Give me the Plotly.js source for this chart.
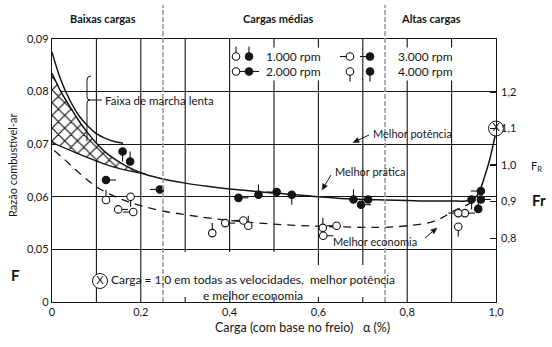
<!DOCTYPE html>
<html><head><meta charset="utf-8">
<script src="https://cdn.plot.ly/plotly-3.0.1.min.js"></script>
<style>html,body{margin:0;padding:0;background:#fff}#chart{width:552px;height:347px}</style>
</head><body><div id="chart"></div>
<script>
// ---------------- data ----------------
const xTickVals = [0, 0.2, 0.4, 0.6, 0.8, 1.0];
const xTickText = ['0', '0,2', '0,4', '0,6', '0,8', '1,0'];
const yTickVals = [0.04, 0.05, 0.06, 0.07, 0.08, 0.09];
const yTickText = ['0', '0,05', '0,06', '0,07', '0,08', '0,09'];
const frTickVals = [0.8, 0.9, 1.0, 1.1, 1.2];
const frTickText = ['0,8', '0,9', '1,0', '1,1', '1,2'];
const zoneNames = ['Baixas cargas', 'Cargas médias', 'Altas cargas'];
const zoneBounds = [0.25, 0.75];
const rpmLabels = ['1.000 rpm', '2.000 rpm', '3.000 rpm', '4.000 rpm'];

// idle band, upper curve
const idleUpperX = [0, 0.02, 0.04, 0.06, 0.08, 0.10, 0.12, 0.14, 0.16];
const idleUpperY = [0.0875, 0.0822, 0.0784, 0.0755, 0.0735, 0.0720, 0.0711, 0.0705, 0.0702];
// best practice / best power main curve
const practiceX = [0, 0.02, 0.04, 0.06, 0.08, 0.10, 0.12, 0.15, 0.18, 0.21, 0.25, 0.30, 0.35, 0.40, 0.45, 0.50, 0.55, 0.60, 0.65, 0.70, 0.75, 0.80, 0.85, 0.90, 0.94, 0.955, 0.965, 0.975, 0.985, 0.993, 0.998, 1.0];
const practiceY = [0.0835, 0.0800, 0.0772, 0.0745, 0.0722, 0.0702, 0.0685, 0.0667, 0.0653, 0.0643, 0.0634, 0.0626, 0.0620, 0.0615, 0.0611, 0.0607, 0.0604, 0.0600, 0.0597, 0.0595, 0.0594, 0.0593, 0.0592, 0.0592, 0.0593, 0.0600, 0.0615, 0.0640, 0.0668, 0.0697, 0.0716, 0.0724];
// idle band, lower line
const idleLowerX = [0, 0.05, 0.10, 0.15, 0.21];
const idleLowerY = [0.0703, 0.0685, 0.0668, 0.0654, 0.0643];
// best economy (dashed)
const economyX = [0.005, 0.02, 0.04, 0.06, 0.08, 0.10, 0.13, 0.16, 0.20, 0.25, 0.30, 0.35, 0.40, 0.50, 0.60, 0.70, 0.75, 0.80, 0.85, 0.88, 0.90, 0.92, 0.94, 0.955];
const economyY = [0.0688, 0.0677, 0.0662, 0.0646, 0.0632, 0.0619, 0.0605, 0.0594, 0.0583, 0.0573, 0.0566, 0.0560, 0.0555, 0.0548, 0.0544, 0.0542, 0.0542, 0.0545, 0.0551, 0.0561, 0.0571, 0.0579, 0.0587, 0.0598];

// measured points: filled = power, open = economy
const power1000X = [0.176, 0.465, 0.679, 0.960];
const power1000Y = [0.0667, 0.0604, 0.0595, 0.0577];
const power2000X = [0.1216, 0.420, 0.696, 0.966];
const power2000Y = [0.0632, 0.0598, 0.0585, 0.0595];
const power3000X = [0.243, 0.506, 0.712, 0.966];
const power3000Y = [0.0614, 0.0609, 0.0595, 0.0611];
const power4000X = [0.159, 0.540, 0.945];
const power4000Y = [0.0686, 0.0604, 0.0595];
const econ1000X = [0.1216, 0.361, 0.442, 0.610];
const econ1000Y = [0.0594, 0.0531, 0.0545, 0.0541];
const econ2000X = [0.149, 0.390, 0.611, 0.930];
const econ2000Y = [0.0576, 0.0550, 0.0526, 0.0569];
const econ3000X = [0.183, 0.431, 0.641, 0.915];
const econ3000Y = [0.0571, 0.0555, 0.0545, 0.0569];
const econ4000X = [0.177, 0.915];
const econ4000Y = [0.0600, 0.0543];

// full load point (load = 1.0, Fr = 1.1)
const fullLoadX = [1.0];
const fullLoadFr = [1.1];

// ---------------- geometry helpers ----------------
const W = 552, H = 347, ML = 52, MR = 56, MT = 39, MB = 45;
const PW = W - ML - MR, PH = H - MT - MB;
const Y0 = 0.04, Y1 = 0.09;
const pX = px => (px - ML) / PW;              // pixel -> paper x
const pY = py => (H - MB - py) / PH;          // pixel -> paper y
const dX = px => (px - ML) / PW;              // pixel -> data x (x axis 0..1)
const dY = py => Y1 - (py - MT) * (Y1 - Y0) / PH; // pixel -> data y
const INK = '#151515';
const FONT = 'Lato, "Noto Sans", sans-serif';

const stemPx = 10;
const stemDX = stemPx / PW;
const stemDY = stemPx * (Y1 - Y0) / PH;

function pointTrace(xs, ys, dir, filled, extra) {
  const t = {
    type: 'scatter', mode: 'markers', x: xs, y: ys, showlegend: false, hoverinfo: 'skip',
    cliponaxis: false,
    marker: { symbol: 'circle', size: 7.5, color: filled ? INK : 'white', line: { color: INK, width: 1.1 } }
  };
  const eb = { type: 'constant', symmetric: false, width: 0, thickness: 1.1, color: INK };
  if (dir === 'up') t.error_y = Object.assign({}, eb, { value: stemDY, valueminus: 0 });
  if (dir === 'down') t.error_y = Object.assign({}, eb, { value: 0, valueminus: stemDY });
  if (dir === 'right') t.error_x = Object.assign({}, eb, { value: stemDX, valueminus: 0 });
  if (dir === 'left') t.error_x = Object.assign({}, eb, { value: 0, valueminus: stemDX });
  return Object.assign(t, extra || {});
}

// hatch polygon from practice curve (up to 0.21) and lower idle line
const hatchX = [], hatchY = [];
practiceX.forEach((x, i) => { if (x <= 0.21) { hatchX.push(x); hatchY.push(practiceY[i]); } });
for (let i = idleLowerX.length - 1; i >= 0; i--) { hatchX.push(idleLowerX[i]); hatchY.push(idleLowerY[i]); }

const traces = [
  { type: 'scatter', mode: 'lines', x: hatchX, y: hatchY, fill: 'toself', line: { width: 0 },
    fillcolor: 'white',
    fillpattern: { shape: 'x', size: 9, solidity: 0.25, fgcolor: INK, bgcolor: 'white' },
    showlegend: false, hoverinfo: 'skip' },
  { type: 'scatter', mode: 'lines', x: idleUpperX, y: idleUpperY, line: { color: INK, width: 1.5, shape: 'spline' }, showlegend: false, hoverinfo: 'skip' },
  { type: 'scatter', mode: 'lines', x: idleLowerX, y: idleLowerY, line: { color: INK, width: 1.3, shape: 'spline' }, showlegend: false, hoverinfo: 'skip' },
  { type: 'scatter', mode: 'lines', x: practiceX, y: practiceY, line: { color: INK, width: 1.5, shape: 'spline' }, showlegend: false, hoverinfo: 'skip' },
  { type: 'scatter', mode: 'lines', x: economyX, y: economyY, line: { color: INK, width: 1.3, dash: '8px,6px', shape: 'spline' }, showlegend: false, hoverinfo: 'skip' },
  pointTrace(econ1000X, econ1000Y, 'up', false),
  pointTrace(econ2000X, econ2000Y, 'right', false),
  pointTrace(econ3000X, econ3000Y, 'left', false),
  pointTrace(econ4000X, econ4000Y, 'down', false),
  pointTrace(power1000X, power1000Y, 'up', true),
  pointTrace(power2000X, power2000Y, 'right', true),
  pointTrace(power3000X, power3000Y, 'left', true),
  pointTrace(power4000X, power4000Y, 'down', true),
  { type: 'scatter', mode: 'markers+text', x: fullLoadX, y: fullLoadFr, yaxis: 'y2', text: ['X'],
    textposition: 'middle center', textfont: { family: FONT, size: 11, color: INK }, cliponaxis: false,
    marker: { symbol: 'circle', size: 15, color: 'white', line: { color: INK, width: 1 } },
    showlegend: false, hoverinfo: 'skip' },
  // note marker next to the footnote
  { type: 'scatter', mode: 'markers+text', x: [dX(100)], y: [dY(281)], text: ['X'],
    textposition: 'middle center', textfont: { family: FONT, size: 11, color: INK }, cliponaxis: false,
    marker: { symbol: 'circle', size: 15, color: 'white', line: { color: INK, width: 1 } },
    showlegend: false, hoverinfo: 'skip' }
];

// legend key symbols (open / filled circle with direction stem)
const keyRowsPy = [56.5, 71.5];
const keyDirs = ['up', 'right', 'left', 'down'];
const keyCols = [{ open: 236, filled: 249, text: 264 }, { open: 350, filled: 370, text: 396 }];
rpmLabels.forEach((lab, i) => {
  const col = keyCols[Math.floor(i / 2)];
  const py = keyRowsPy[i % 2];
  traces.push(pointTrace([dX(col.open)], [dY(py)], keyDirs[i], false));
  traces.push(pointTrace([dX(col.filled)], [dY(py)], keyDirs[i], true));
});

// ---------------- shapes ----------------
const shapes = [];
const fullGrid = [0.1, 0.2, 0.8, 0.9];
[0.1, 0.2, 0.3, 0.4, 0.5, 0.6, 0.7, 0.8, 0.9].forEach(x => {
  if (fullGrid.includes(x)) {
    shapes.push({ type: 'line', layer: 'below', xref: 'x', yref: 'y', x0: x, x1: x, y0: Y0, y1: Y1, line: { color: INK, width: 1.1 } });
  } else {
    const cut = x >= 0.6 ? dY(265) : dY(252);
    shapes.push({ type: 'line', layer: 'below', xref: 'x', yref: 'y', x0: x, x1: x, y0: cut, y1: Y1, line: { color: INK, width: 1.1 } });
    shapes.push({ type: 'line', layer: 'below', xref: 'x', yref: 'y', x0: x, x1: x, y0: Y0, y1: dY(297), line: { color: INK, width: 1.1 } });
  }
});
zoneBounds.forEach(x => {
  shapes.push({ type: 'line', layer: 'above', xref: 'x', yref: 'paper', x0: x, x1: x, y0: 0, y1: pY(5), line: { color: '#9a9a9a', width: 1.6, dash: '5px,2px' } });
});
// brace for the idle band label
const P = (px, py) => pX(px).toFixed(4) + ',' + pY(py).toFixed(4);
shapes.push({ type: 'path', xref: 'paper', yref: 'paper', layer: 'above',
  path: 'M' + P(91, 76) + ' Q' + P(87, 76) + ' ' + P(87, 80) + ' L' + P(87, 97) + ' Q' + P(87, 100) + ' ' + P(90, 100) +
        ' L' + P(102, 100) + ' M' + P(90, 100) + ' Q' + P(87, 100) + ' ' + P(87, 103) + ' L' + P(87, 141),
  line: { color: INK, width: 1 } });
// leader arrows (line + filled head), pixel coordinates head (hx,hy) and tail (tx,ty)
function arrowShapes(hx, hy, tx, ty) {
  const len = Math.hypot(tx - hx, ty - hy), ux = (tx - hx) / len, uy = (ty - hy) / len;
  const hl = 6, hw = 2.6;
  const bx = hx + ux * hl, by = hy + uy * hl;
  const lx = bx - uy * hw, ly = by + ux * hw, rx = bx + uy * hw, ry = by - ux * hw;
  shapes.push({ type: 'path', xref: 'paper', yref: 'paper', layer: 'above', path: 'M' + P(tx, ty) + ' L' + P(bx, by), line: { color: INK, width: 1 } });
  shapes.push({ type: 'path', xref: 'paper', yref: 'paper', layer: 'above', path: 'M' + P(hx, hy) + ' L' + P(lx, ly) + ' L' + P(rx, ry) + ' Z',
    fillcolor: INK, line: { color: INK, width: 0.5 } });
}
arrowShapes(353, 142.5, 369, 135);
arrowShapes(322, 190, 331, 175);
arrowShapes(437, 228, 425, 238);

// ---------------- annotations ----------------
const ann = [];
const txt = (text, px, py, opts) => Object.assign({ text, xref: 'paper', yref: 'paper', x: pX(px), y: pY(py), showarrow: false,
  xanchor: 'left', yanchor: 'middle', font: { family: FONT, size: 11, color: INK } }, opts || {});
const zoneCenters = [103, 278, 431];
zoneNames.forEach((z, i) => ann.push(txt('<b>' + z + '</b>', zoneCenters[i], 18, { xanchor: 'center', font: { family: FONT, size: 11, color: INK } })));
ann.push(txt('Faixa de marcha lenta', 103, 100, { font: { family: FONT, size: 11.5, color: INK } }));
ann.push(txt('Melhor potência', 371, 133));
ann.push(txt('Melhor prática', 333, 171));
ann.push(txt('Melhor economia', 331, 241));
ann.push(txt('Carga = 1,0 em todas as velocidades,\u00a0\u00a0melhor potência<br>e melhor economia', 253, 287,
  { xanchor: 'center', align: 'center', font: { family: FONT, size: 12, color: INK } }));
ann.push(txt('<b>F</b>', 15, 275, { xanchor: 'center', font: { family: FONT, size: 15, color: INK } }));
ann.push(txt('F<sub>R</sub>', 529, 166, { font: { family: FONT, size: 11, color: INK } }));
ann.push(txt('<b>Fr</b>', 530, 200, { font: { family: FONT, size: 15, color: INK } }));
ann.push(txt('Razão combustível-ar', 12, 165, { xanchor: 'center', textangle: -90 }));
ann.push(txt('Carga (com base no freio)\u00a0\u00a0\u00a0α (%)', 302, 327, { xanchor: 'center', font: { family: FONT, size: 12.5, color: INK } }));
rpmLabels.forEach((lab, i) => {
  const col = keyCols[Math.floor(i / 2)];
  ann.push(txt(lab, col.text, keyRowsPy[i % 2], { bgcolor: 'white', borderpad: 1, font: { family: FONT, size: 12, color: INK } }));
});

const layout = {
  width: W, height: H,
  margin: { l: ML, r: MR, t: MT, b: MB },
  paper_bgcolor: 'white', plot_bgcolor: 'white',
  font: { family: FONT, size: 11, color: INK },
  showlegend: false,
  xaxis: { range: [0, 1], tickvals: xTickVals, ticktext: xTickText, showgrid: false, zeroline: false,
    showline: true, linecolor: INK, linewidth: 1.2, mirror: true, ticks: '', fixedrange: true,
    tickfont: { family: FONT, size: 11, color: INK } },
  yaxis: { range: [Y0, Y1], tickvals: yTickVals, ticktext: yTickText, showgrid: true, gridcolor: INK, gridwidth: 1.1,
    zeroline: false, showline: true, linecolor: INK, linewidth: 1.2, mirror: true, ticks: '', fixedrange: true,
    tickfont: { family: FONT, size: 11, color: INK } },
  yaxis2: { overlaying: 'y', side: 'right', range: [0.625, 1.345], tickvals: frTickVals, ticktext: frTickText,
    showgrid: false, zeroline: false, showline: false, ticks: 'inside', ticklen: 6, tickcolor: INK, tickwidth: 1.1,
    ticklabelstandoff: 4, fixedrange: true, tickfont: { family: FONT, size: 11, color: INK } },
  shapes: shapes,
  annotations: ann
};

Plotly.newPlot('chart', traces, layout, { displayModeBar: false, staticPlot: true });
</script>
</body></html>
